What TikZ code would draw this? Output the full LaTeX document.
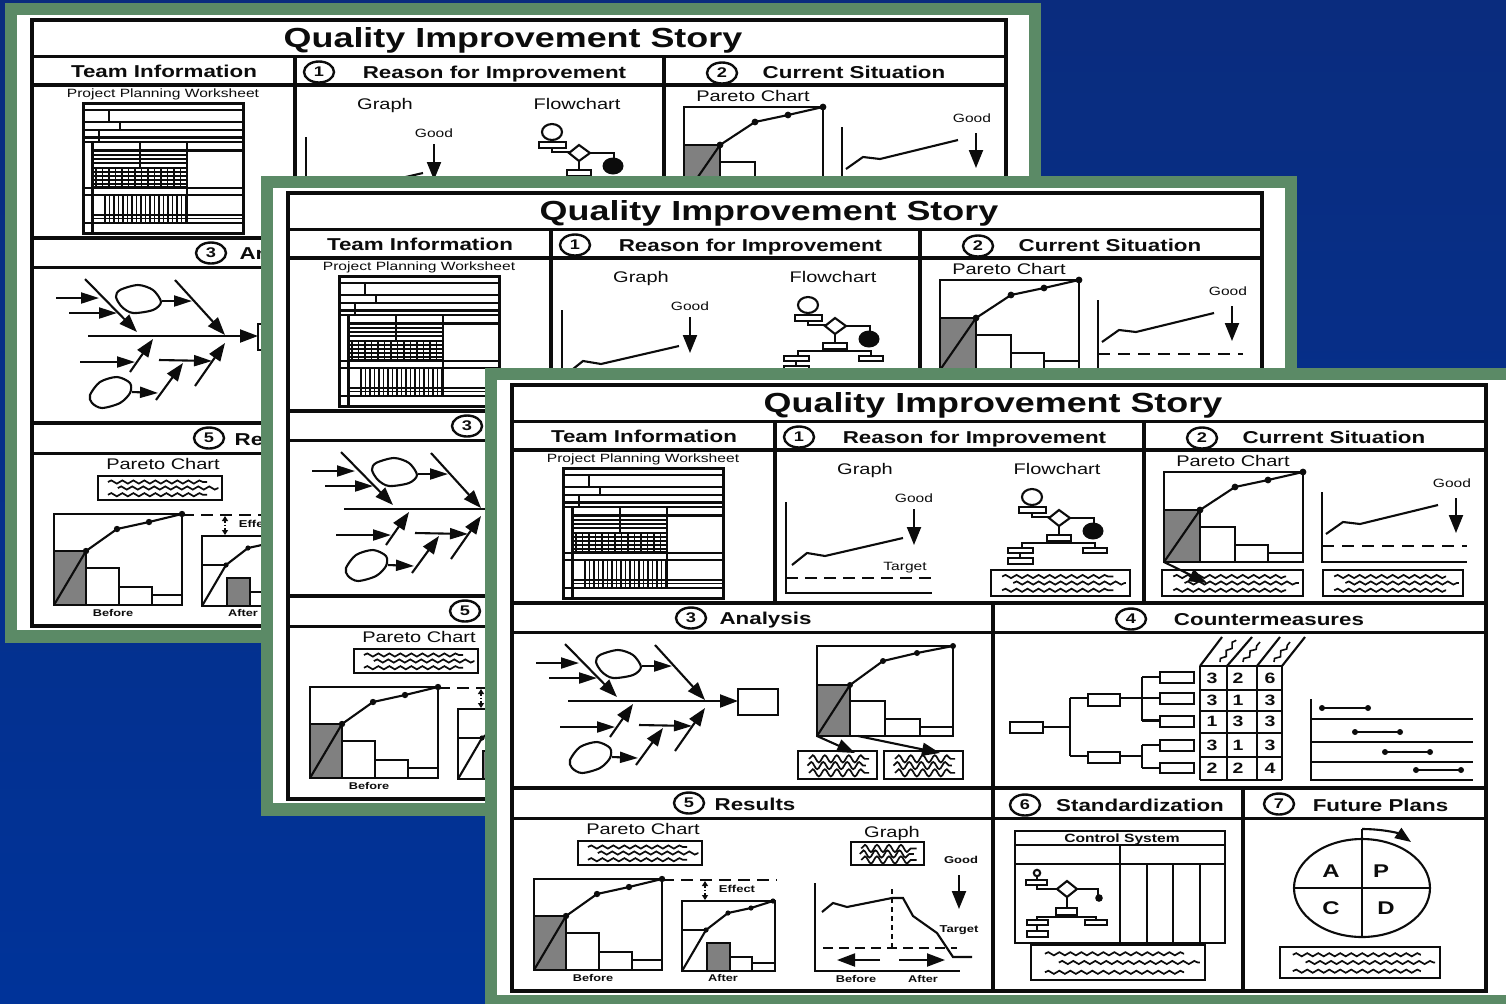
\documentclass[tikz,border=0pt]{standalone}
\usepackage{fontspec}
\usetikzlibrary{arrows.meta,decorations.pathmorphing,shapes.geometric}
\newfontfamily\regf[FakeStretch=1.3]{Liberation Sans}
\newcommand\boldf{\regf\bfseries}
\definecolor{frameg}{HTML}{5B8A66}
\definecolor{bluetop}{HTML}{0A2C7E}
\definecolor{bluebot}{HTML}{003399}
\definecolor{ink}{HTML}{0C0C0C}
\definecolor{hatchg}{HTML}{808080}
\newcount\lblcnt
% a text is set only where it can be seen: a card above it may cover it whole.
% \lblhw{half width in px}{font}{size}{x}{y}{text}
\newcommand\lblhw[6]{%
  \pgfmathtruncatemacro\hideit{(#4+\cdx-#1>\hidx)*(#5+\cdy>\hidy)}%
  \ifnum\hideit=0
  \global\advance\lblcnt by 1
  \node[inner sep=0pt,text=ink,anchor=center,text height=#3*0.716pt,text depth=0pt,
        font={\fontsize{#3}{#3}#2}] (t\the\lblcnt) at (#4,#5) {#6};
  \fi}
\newcommand\lbl{\lblhw{13}}
\newcommand\numcirc[3]{%
  \pgfmathtruncatemacro\hideit{(#1+\cdx-15>\hidx)*(#2+\cdy>\hidy)}%
  \ifnum\hideit=0
  \global\advance\lblcnt by 1
  \node[ellipse,draw=ink,line width=1.2pt,fill=white,minimum width=15pt,minimum height=10.5pt,inner sep=0pt,
        font={\fontsize{7}{7}\boldf},text=ink] (t\the\lblcnt) at (#1,#2) {#3};
  \fi}
\newcommand\wavebox[4]{%
  \draw[med,fill=white] (#1,#2) rectangle (#3,#4);
  \pgfmathsetmacro\wbw{#3-#1}\pgfmathsetmacro\wbh{#4-#2}
  \draw[wav] ({#1+.08*\wbw},{#2+.25*\wbh}) -- ({#3-.12*\wbw},{#2+.25*\wbh});
  \draw[wav] ({#1+.16*\wbw},{#2+.5*\wbh}) -- ({#3-.03*\wbw},{#2+.5*\wbh});
  \draw[wav] ({#1+.08*\wbw},{#2+.78*\wbh}) -- ({#3-.12*\wbw},{#2+.78*\wbh});
}
\newcommand\densebox[4]{%
  \draw[med,fill=white] (#1,#2) rectangle (#3,#4);
  \pgfmathsetmacro\wbw{#3-#1}\pgfmathsetmacro\wbh{#4-#2}
  \draw[wavb] ({#1+.14*\wbw},{#2+.28*\wbh}) -- ({#3-.1*\wbw},{#2+.28*\wbh});
  \draw[wavb] ({#1+.12*\wbw},{#2+.52*\wbh}) -- ({#3-.14*\wbw},{#2+.52*\wbh});
  \draw[wavb] ({#1+.14*\wbw},{#2+.78*\wbh}) -- ({#3-.1*\wbw},{#2+.78*\wbh});
}
\newcommand\card{%
  \fill[frameg] (485,368) rectangle (1521,1008);
  \fill[white] (497,380) rectangle (1509,995);
  % table
  \draw[tbl] (512,385) rectangle (1486,991);
  \draw[tbl] (512,421.5) -- (1486,421.5);
  \draw[tbl] (512,450) -- (1486,450);
  \draw[tbl] (512,603) -- (1486,603);
  \draw[tbl] (512,632.5) -- (1486,632.5);
  \draw[tbl] (512,788) -- (1486,788);
  \draw[tbl] (512,818.5) -- (1486,818.5);
  \draw[tbl] (775,421.5) -- (775,603);
  \draw[tbl] (1144,421.5) -- (1144,603);
  \draw[tbl] (993,603) -- (993,991);
  \draw[tbl] (1243,788) -- (1243,991);
  % headers
  \lbl{\boldf}{13.8}{993}{403}{Quality Improvement Story}
  \lbl{\boldf}{8.6}{644}{436}{Team Information}
  \numcirc{799}{437}{1}
  \lbl{\boldf}{8.6}{974.5}{437}{Reason for Improvement}
  \numcirc{1202}{438}{2}
  \lbl{\boldf}{8.6}{1334}{437}{Current Situation}
  \numcirc{691}{618}{3}
  \lblhw{46}{\boldf}{8.6}{765.5}{618}{Analysis}
  \numcirc{1131}{619}{4}
  \lbl{\boldf}{8.6}{1269}{619}{Countermeasures}
  \numcirc{689}{803}{5}
  \lblhw{40}{\boldf}{8.6}{755}{804}{Results}
  \numcirc{1025}{805}{6}
  \lbl{\boldf}{8.6}{1140}{805}{Standardization}
  \numcirc{1279}{804}{7}
  \lbl{\boldf}{8.6}{1380.5}{805}{Future Plans}
  % worksheet
  \lbl{\regf}{6}{643}{458}{Project Planning Worksheet}
  \draw[med,line width=1.5pt] (563,468) rectangle (723,598);
  \foreach \yy in {475,487,495,502.5,507,553,560,588}{\draw[med] (563,\yy) -- (723,\yy);}
  \foreach \yy in {580,583.5}{\draw[gridl] (572,\yy) -- (723,\yy);}
  \draw[med] (589,475) -- (589,487);
  \draw[med] (600,487) -- (600,495);
  \draw[med] (579,495) -- (579,507);
  \draw[med] (572.5,507) -- (572.5,598);
  \draw[med] (667,507) -- (667,588);
  \draw[med] (620,507) -- (620,533);
  \draw[med] (572,515.5) -- (723,515.5);
  \foreach \yy in {520,524,528,533}{\draw[gridl] (572,\yy) -- (667,\yy);}
  \foreach \yy in {537,541,545,549,552}{\draw[gridl] (572,\yy) -- (667,\yy);}
  \foreach \xx in {576,582.5,...,667}{\draw[gridl] (\xx,533) -- (\xx,553);}
  \foreach \xx in {585,589.5,...,667}{\draw[gridl] (\xx,560) -- (\xx,588);}
  % graph 1
  \lbl{\regf}{7.7}{865}{469}{Graph}
  \lbl{\regf}{6}{914}{498}{Good}
  \lbl{\regf}{6}{905}{566}{Target}
  \draw[gl] (786,502) -- (786,593) -- (932,593);
  \draw[gl,dash pattern=on 6pt off 3.5pt] (786,578) -- (932,578);
  \draw[gl] (792,565) -- (807,553) -- (825,556) -- (903,538);
  \draw[gl,bigtip] (914,509) -- (914,545);
  % flowchart 1
  \lbl{\regf}{7.7}{1057}{469}{Flowchart}
  \draw[gl] (1032,505) -- (1032,507);
  \draw[gl] (1032,497) ellipse (10 and 8);
  \draw[gl] (1019,507) rectangle (1046,513);
  \draw[gl] (1032,513) -- (1032,517) -- (1050,517);
  \draw[gl,fill=white] (1049,518) -- (1059,510) -- (1070,518) -- (1059,526) -- cycle;
  \draw[gl] (1070,518) -- (1094,518) -- (1094,524);
  \fill[ink] (1093,531) ellipse (10.5 and 8.5);
  \draw[gl] (1059,526) -- (1059,535);
  \draw[gl] (1047,535) rectangle (1071,541);
  \draw[gl] (1059,541) -- (1059,543);
  \draw[gl] (1022,548) -- (1022,543) -- (1095,543) -- (1095,548);
  \draw[gl] (1008,548) rectangle (1033,553);
  \draw[gl] (1020,553) -- (1020,558);
  \draw[gl] (1008,558) rectangle (1033,564);
  \draw[gl] (1083,548) rectangle (1107,553);
  \wavebox{991}{570}{1130}{596}
  % section 2
  \lbl{\regf}{7.7}{1233}{461}{Pareto Chart}
  \fill[hatchg] (1164,510) rectangle (1200,562);
  \draw[med] (1164,472) rectangle (1303,562);
  \draw[med] (1164,510) rectangle (1200,562);
  \draw[med] (1200,562) |- (1235,527) -- (1235,562);
  \draw[med] (1235,545) -- (1268,545) -- (1268,562);
  \draw[med] (1268,553) -- (1303,553);
  \wavebox{1162}{570}{1303}{596}
  \wavebox{1323}{570}{1463}{596}
  \draw[gl] (1164,562) -- (1200,510) -- (1235,487) -- (1268,480) -- (1303,472);
  \foreach \px/\py in {1200/510,1235/487,1268/480,1303/472}{\fill[ink] (\px,\py) circle (3.4);}
  \draw[gl,medtip] (1164,562) -- (1207,583);
  \lbl{\regf}{6}{1452}{483}{Good}
  \draw[gl] (1322,492) -- (1322,562) -- (1467,562);
  \draw[gl,dash pattern=on 6pt off 4pt] (1322,546) -- (1467,546);
  \draw[gl] (1326,534) -- (1343,522) -- (1360,524) -- (1438,505);
  \draw[gl,bigtip] (1456,498) -- (1456,533);
  % section 3 fishbone
  \draw[gl] (568,701) -- (707,701);
  \draw[gl,medtip] (707,701) -- (738,701);
  \draw[gl,medtip] (565,644) -- (617,697);
  \draw[gl,medtip] (655,645) -- (705,700);
  \draw[gl,smalltip] (536,663) -- (579,663);
  \draw[gl,smalltip] (549,678) -- (597,678);
  \draw[gl,medtip] (610,737) -- (633,704);
  \draw[gl,medtip] (675,751) -- (705,708);
  \draw[gl,smalltip] (560,727) -- (615,727);
  \draw[gl,smalltip] (639,725) -- (692,726);
  \draw[gl,medtip] (636,765) -- (663,728);
  \draw[gl,smalltip] (642,666) -- (672,666);
  \draw[gl,smalltip] (612,757) -- (638,758);
  \draw[gl] plot[smooth cycle] coordinates {(600,655)(618,650)(633,655)(641,667)(633,675)(613,678)(602,672)(596,662)};
  \draw[gl] plot[smooth cycle] coordinates {(580,747)(597,742)(610,748)(610,758)(600,768)(582,773)(572,768)(570,760)};
  \draw[med] (738,689) rectangle (778,715);
  % section 3 pareto
  \fill[hatchg] (817,685) rectangle (850,736);
  \draw[med] (817,646) rectangle (953,736);
  \draw[med] (817,685) rectangle (850,736);
  \draw[med] (850,736) |- (885,701) -- (885,736);
  \draw[med] (885,719) -- (920,719) -- (920,736);
  \draw[med] (920,727) -- (953,727);
  \draw[gl] (817,736) -- (850,685) -- (883,661) -- (917,653) -- (953,646);
  \foreach \px/\py in {850/685,883/661,917/653,953/646}{\fill[ink] (\px,\py) circle (3);}
  \densebox{798}{751}{877}{779}
  \densebox{884}{751}{963}{779}
  \draw[gl,medtip] (817,736) -- (855,753);
  \draw[gl,medtip] (858,736) -- (940,753);
  % section 4 tree
  \draw[gl] (1010,722) rectangle (1043,733);
  \draw[gl] (1043,727) -- (1070,727);
  \draw[gl] (1070,698) -- (1070,756);
  \draw[gl] (1070,698) -- (1088,698);
  \draw[gl] (1070,756) -- (1088,756);
  \draw[gl] (1088,694) rectangle (1120,706);
  \draw[gl] (1088,752) rectangle (1120,763);
  \draw[gl] (1120,698) -- (1160,698);
  \draw[gl] (1120,756) -- (1142,756);
  \draw[gl] (1142,677) -- (1142,720.5);
  \draw[gl] (1142,745) -- (1142,768);
  \foreach \yy in {677,720.5,745,768}{\draw[gl] (1142,\yy) -- (1160,\yy);}
  \foreach \yy/\yb in {672/683,693/704,716/727,740/751,763/773}{\draw[gl] (1160,\yy) rectangle (1194,\yb);}
  % matrix
  \foreach \xx in {1200,1227,1257,1282}{\draw[gl] (\xx,666) -- (\xx,780);}
  \foreach \yy in {666,690,711,733,757,780}{\draw[gl] (1200,\yy) -- (1282,\yy);}
  \draw[gl] (1200,666) -- (1222,637);
  \draw[gl] (1227,666) -- (1252,637);
  \draw[gl] (1257,666) -- (1280,637);
  \draw[gl] (1282,666) -- (1305,637);
  \foreach \xa/\ya/\xb/\yb in {1220/662/1236/640,1243/662/1260/642,1274/662/1290/642}{\draw[wavs] (\xa,\ya) -- (\xb,\yb);}
  \foreach \yy/\da/\db/\dc in {678/3/2/6,700/3/1/3,721/1/3/3,745/3/1/3,768/2/2/4}{
    \lbl{\boldf}{7.5}{1212}{\yy}{\da}
    \lbl{\boldf}{7.5}{1238}{\yy}{\db}
    \lbl{\boldf}{7.5}{1270}{\yy}{\dc}
  }
  % gantt
  \draw[gl] (1311,699) -- (1311,780) -- (1473,780);
  \foreach \yy in {719,742,762}{\draw[gl] (1311,\yy) -- (1473,\yy);}
  \foreach \xa/\xb/\yy in {1322/1368/708,1355/1400/732,1385/1430/752,1416/1461/770}{
    \draw[gl] (\xa,\yy) -- (\xb,\yy);
    \fill[ink] (\xa,\yy) circle (3);
    \fill[ink] (\xb,\yy) circle (3);
  }
  % section 5
  \lbl{\regf}{7.7}{643}{829}{Pareto Chart}
  \wavebox{578}{841}{702}{865}
  \fill[hatchg] (534,916) rectangle (566,970);
  \draw[med] (534,879) rectangle (662,970);
  \draw[med] (534,916) rectangle (566,970);
  \draw[med] (566,970) |- (599,933) -- (599,970);
  \draw[med] (599,952) -- (632,952) -- (632,970);
  \draw[med] (632,960) -- (662,960);
  \draw[gl] (534,970) -- (566,916) -- (597,894) -- (629,887) -- (662,879);
  \foreach \px/\py in {566/916,597/894,629/887,662/879}{\fill[ink] (\px,\py) circle (3.2);}
  \draw[gl,dash pattern=on 6pt off 3.5pt] (662,880) -- (777,880);
  \draw[thn,line width=.9pt,densely dotted,{Triangle[length=2.5pt,width=3pt]}-{Triangle[length=2.5pt,width=3pt]}] (705,881) -- (705,900);
  \lbl{\boldf}{5}{737}{889}{Effect}
  \fill[hatchg] (707,943) rectangle (730,971);
  \draw[med] (682,901) rectangle (775,971);
  \draw[med] (707,943) rectangle (730,971);
  \draw[med] (730,971) |- (752,957) -- (752,971);
  \draw[med] (752,963) -- (775,963);
  \draw[med] (682,930) -- (706,930);
  \draw[gl] (682,971) -- (706,930) -- (728,913) -- (751,908) -- (773,901);
  \foreach \px/\py in {706/930,728/913,751/908,773/901}{\fill[ink] (\px,\py) circle (2.6);}
  \lbl{\boldf}{4.9}{593}{978}{Before}
  \lbl{\boldf}{4.9}{723}{978}{After}
  % section 5 graph
  \lbl{\regf}{7.7}{892}{832}{Graph}
  \densebox{851}{842}{924}{865}
  \lbl{\boldf}{5}{961}{860}{Good}
  \draw[gl,bigtip] (959,875) -- (959,909);
  \draw[gl] (815,883) -- (815,971) -- (960,971);
  \draw[gl,dash pattern=on 5pt off 3pt] (823,948) -- (957,948);
  \draw[gl,line width=1.3pt,dash pattern=on 2.5pt off 2pt] (892,889) -- (892,948);
  \draw[gl] (822,912) -- (833,903) -- (847,907) -- (892,898) -- (903,898) -- (913,916) -- (937,933) -- (953,957) -- (972,957);
  \lbl{\boldf}{5}{959}{929}{Target}
  \draw[gl,medtip] (880,960) -- (837,960);
  \draw[gl,medtip] (899,960) -- (945,960);
  \lbl{\boldf}{4.9}{856}{979}{Before}
  \lbl{\boldf}{4.9}{923}{979}{After}
  % section 6
  \draw[med] (1015,831) rectangle (1225,943);
  \draw[med] (1015,845) -- (1225,845);
  \draw[med] (1015,864) -- (1225,864);
  \draw[med] (1120,845) -- (1120,943);
  \foreach \xx in {1147,1173,1200}{\draw[med] (\xx,864) -- (\xx,943);}
  \lbl{\boldf}{6}{1122}{838}{Control System}
  \draw[gl] (1037,873) circle (3.2);
  \draw[gl] (1037,876) -- (1037,880);
  \draw[gl] (1026,880) rectangle (1047,885);
  \draw[gl] (1037,885) -- (1037,889) -- (1057,889);
  \draw[gl,fill=white] (1057,889) -- (1067,881) -- (1077,889) -- (1067,897) -- cycle;
  \draw[gl] (1077,889) -- (1098,889) -- (1098,895);
  \fill[ink] (1099,898) circle (3.8);
  \draw[gl] (1067,897) -- (1067,908);
  \draw[gl] (1056,908) rectangle (1077,915);
  \draw[gl] (1037,920) -- (1037,917) -- (1096,917) -- (1096,920);
  \draw[gl] (1027,920) rectangle (1048,925);
  \draw[gl] (1037,925) -- (1037,931);
  \draw[gl] (1027,931) rectangle (1048,937);
  \draw[gl] (1085,920) rectangle (1107,925);
  \wavebox{1031}{945}{1205}{980}
  % section 7
  \draw[gl] (1362,888) ellipse (68 and 49);
  \draw[gl] (1294,888) -- (1430,888);
  \draw[gl] (1362,937) -- (1362,829);
  \draw[gl,-{Triangle[length=8pt,width=6pt]}] (1362,829) .. controls (1382,829) and (1398,833) .. (1411,842);
  \lbl{\boldf}{9.2}{1331}{871}{A}
  \lbl{\boldf}{9.2}{1381}{871}{P}
  \lbl{\boldf}{9.2}{1331}{908}{C}
  \lbl{\boldf}{9.2}{1386}{908}{D}
  \wavebox{1280}{947}{1440}{978}
}
\tikzset{
  tbl/.style={draw=ink,line width=1.6pt,line cap=rect},
  med/.style={draw=ink,line width=1.1pt},
  gl/.style={draw=ink,line width=1.05pt},
  thn/.style={draw=ink,line width=.5pt},
  gridl/.style={draw=ink,line width=.75pt},
  wav/.style={draw=ink,line width=.85pt,decorate,decoration={snake,amplitude=.8pt,segment length=5.5pt}},
  wavb/.style={draw=ink,line width=.85pt,decorate,decoration={snake,amplitude=1.8pt,segment length=6pt}},
  wavs/.style={draw=ink,line width=.8pt,decorate,decoration={snake,amplitude=.9pt,segment length=5pt}},
  bigtip/.style={-{Triangle[length=9pt,width=7pt]}},
  medtip/.style={-{Triangle[length=9pt,width=6.5pt]}},
  smalltip/.style={-{Triangle[length=9pt,width=5.5pt]}},
}
\begin{document}
\begin{tikzpicture}[x=0.5pt,y=-0.5pt]
  \path[use as bounding box] (0,0) rectangle (1506,1003);
  \clip (0,0) rectangle (1506,1003);
  \shade[top color=bluetop,bottom color=bluebot] (0,0) rectangle (1506,1003);
  \begin{scope}[shift={(-480,-365)}]\def\cdx{-480}\def\cdy{-365}\def\hidx{261}\def\hidy{176}\card\end{scope}
  \begin{scope}[shift={(-224,-192)}]\def\cdx{-224}\def\cdy{-192}\def\hidx{485}\def\hidy{368}\card\end{scope}
  \def\cdx{0}\def\cdy{0}\def\hidx{9000}\def\hidy{9000}\card
\end{tikzpicture}
\end{document}
